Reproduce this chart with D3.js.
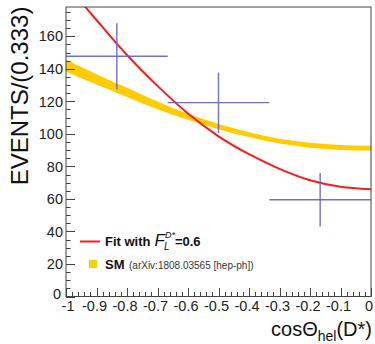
<!DOCTYPE html>
<html>
<head>
<meta charset="utf-8">
<script src="https://cdn.jsdelivr.net/npm/d3@7"></script>
<style>
  html, body { margin: 0; padding: 0; background: #fff; }
  svg { display: block; }
  text { font-family: "Liberation Sans", Arial, sans-serif; }
</style>
</head>
<body>
<svg id="chart" width="375" height="344"></svg>
<script>
// Measured points: bin centres, counts and errors
const binCenters = [-0.8333, -0.5, -0.1667];
const binHalfWidth = [0.1667, 0.1667, 0.1667];
const counts = [147.7, 119.2, 59.5];
const countErrors = [20.3, 18.6, 16.5];

// Fit curve with F_L = 0.6
const fitX = [-1, -0.95, -0.9, -0.85, -0.8, -0.7, -0.6, -0.5, -0.4, -0.3, -0.2, -0.1, 0];
const fitY = [192, 181, 170, 159, 148.5, 129.5, 112.5, 98.5, 87.5, 78.5, 71.5, 67.5, 66];

// SM prediction band: central value and half width
const smX = [-1, -0.9, -0.8, -0.7, -0.6, -0.5, -0.4, -0.3, -0.2, -0.1, 0];
const smY = [142, 133.5, 125.5, 117.5, 110.5, 104.5, 99.5, 95.5, 93, 91.6, 91.2];
const smHalf = [3.6, 3.2, 2.8, 2.4, 1.8, 1.6, 1.5, 1.5, 1.5, 1.5, 1.5];

// Axis ticks
const xMajorTicks = [-1, -0.9, -0.8, -0.7, -0.6, -0.5, -0.4, -0.3, -0.2, -0.1, 0];
const xTickLabels = ["-1", "-0.9", "-0.8", "-0.7", "-0.6", "-0.5", "-0.4", "-0.3", "-0.2", "-0.1", "0"];
const yMajorTicks = [0, 20, 40, 60, 80, 100, 120, 140, 160];

const svg = d3.select("#chart");
const L = 66, R = 371, T = 7, B = 296.5;

const x = d3.scaleLinear().domain([-1, 0]).range([L, R]);
const y = d3.scaleLinear().domain([0, 178]).range([B, T]);

svg.append("defs").append("clipPath").attr("id", "plotClip")
  .append("rect").attr("x", L).attr("y", T).attr("width", R - L).attr("height", B - T);

const plot = svg.append("g").attr("clip-path", "url(#plotClip)");

// SM band
const band = d3.area()
  .x((d, i) => x(smX[i]))
  .y0((d, i) => y(smY[i] - smHalf[i]))
  .y1((d, i) => y(smY[i] + smHalf[i]))
  .curve(d3.curveMonotoneX);
plot.append("path").datum(smX).attr("d", band).attr("fill", "#ffcc00");

// Fit curve
const fitLine = d3.line()
  .x((d, i) => x(fitX[i]))
  .y((d, i) => y(fitY[i]))
  .curve(d3.curveMonotoneX);
plot.append("path").datum(fitX).attr("d", fitLine)
  .attr("fill", "none").attr("stroke", "#ff1a1a").attr("stroke-width", 2);

// Data points with error bars
const pts = plot.append("g").attr("stroke", "#5f5fd2").attr("stroke-width", 1.4).attr("stroke-opacity", 0.9);
binCenters.forEach((c, i) => {
  pts.append("line")
    .attr("x1", x(c - binHalfWidth[i])).attr("x2", x(c + binHalfWidth[i]))
    .attr("y1", y(counts[i])).attr("y2", y(counts[i]));
  pts.append("line")
    .attr("x1", x(c)).attr("x2", x(c))
    .attr("y1", y(counts[i] - countErrors[i])).attr("y2", y(counts[i] + countErrors[i]));
});

// Frame
svg.append("rect").attr("x", L).attr("y", T).attr("width", R - L).attr("height", B - T)
  .attr("fill", "none").attr("stroke", "#444").attr("stroke-width", 1);

// Y axis ticks (inside)
const yMinor = d3.range(0, 176, 5).filter(v => v % 20 !== 0);
const yAxis = svg.append("g").attr("stroke", "#444").attr("stroke-width", 1);
yMajorTicks.forEach(v => yAxis.append("line").attr("x1", L).attr("x2", L + 9)
  .attr("y1", Math.round(y(v)) + 0.5).attr("y2", Math.round(y(v)) + 0.5));
yMinor.forEach(v => yAxis.append("line").attr("x1", L).attr("x2", L + 4.5)
  .attr("y1", Math.round(y(v)) + 0.5).attr("y2", Math.round(y(v)) + 0.5));
svg.append("g").selectAll("text").data(yMajorTicks).join("text")
  .attr("x", (d, i) => i === 0 ? L - 5 : L - 3)
  .attr("y", (d, i) => y(d) - (i === 0 ? 3 : 0)).attr("dy", "0.36em")
  .attr("text-anchor", "end").attr("font-size", 14.5).attr("fill", "#222")
  .text(d => d);

// X axis ticks (inside)
const xMinor = d3.range(-1, 0.0001, 0.02).filter(v => Math.abs(Math.round(v * 10) - v * 10) > 0.01);
const xAxis = svg.append("g").attr("stroke", "#444").attr("stroke-width", 1);
xMajorTicks.forEach(v => xAxis.append("line").attr("y1", B).attr("y2", B - 8.5)
  .attr("x1", Math.round(x(v)) + 0.5).attr("x2", Math.round(x(v)) + 0.5));
xMinor.forEach(v => xAxis.append("line").attr("y1", B).attr("y2", B - 4.5)
  .attr("x1", Math.round(x(v)) + 0.5).attr("x2", Math.round(x(v)) + 0.5));
svg.append("g").selectAll("text").data(xMajorTicks).join("text")
  .attr("x", (d, i) => x(d) + (i === 0 ? 2 : -2)).attr("y", B + 14.5)
  .attr("text-anchor", "middle").attr("font-size", 14.5).attr("fill", "#222")
  .text((d, i) => xTickLabels[i]);

// Axis titles
svg.append("text")
  .attr("transform", `translate(28,96) rotate(-90)`)
  .attr("text-anchor", "middle").attr("font-size", 24).attr("fill", "#111")
  .text("EVENTS/(0.333)");

const xt = svg.append("text").attr("x", 372).attr("y", 336)
  .attr("text-anchor", "end").attr("font-size", 20).attr("fill", "#111");
xt.append("tspan").text("cosΘ");
xt.append("tspan").attr("font-size", 14).attr("dy", 5).text("hel");
xt.append("tspan").attr("dy", -5).text("(D*)");

// Legend
const leg = svg.append("g");
leg.append("line").attr("x1", 80).attr("x2", 100).attr("y1", 241.5).attr("y2", 241.5)
  .attr("stroke", "#ff1a1a").attr("stroke-width", 2);
const t1 = leg.append("text").attr("x", 105).attr("y", 246).attr("font-size", 13)
  .attr("font-weight", "bold").attr("fill", "#111").text("Fit with");
const w1 = t1.node().getComputedTextLength();
const fx = 105 + w1 + 4;
const fT = leg.append("text").attr("x", fx).attr("y", 246)
  .attr("font-family", "'Liberation Serif', 'Times New Roman', serif")
  .attr("font-style", "italic").attr("font-size", 17).attr("fill", "#111").text("F");
const fw = fT.node().getComputedTextLength();
leg.append("text").attr("x", fx + fw - 1).attr("y", 250)
  .attr("font-family", "'Liberation Serif', 'Times New Roman', serif")
  .attr("font-style", "italic").attr("font-size", 10).attr("fill", "#111").text("L");
const supT = leg.append("text").attr("x", fx + fw).attr("y", 238)
  .attr("font-family", "'Liberation Serif', 'Times New Roman', serif")
  .attr("font-style", "italic").attr("font-size", 9).attr("fill", "#111").text("D*");
const sw = supT.node().getComputedTextLength();
leg.append("text").attr("x", fx + fw + sw).attr("y", 246).attr("font-size", 13)
  .attr("font-weight", "bold").attr("fill", "#111").text("=0.6");

leg.append("rect").attr("x", 89).attr("y", 260).attr("width", 8).attr("height", 8).attr("fill", "#ffcc00");
leg.append("text").attr("x", 105).attr("y", 268.5).attr("font-size", 13)
  .attr("font-weight", "bold").attr("fill", "#111").text("SM");
leg.append("text").attr("x", 129).attr("y", 268.5).attr("font-size", 10)
  .attr("fill", "#333").text("(arXiv:1808.03565 [hep-ph])");
</script>
</body>
</html>
